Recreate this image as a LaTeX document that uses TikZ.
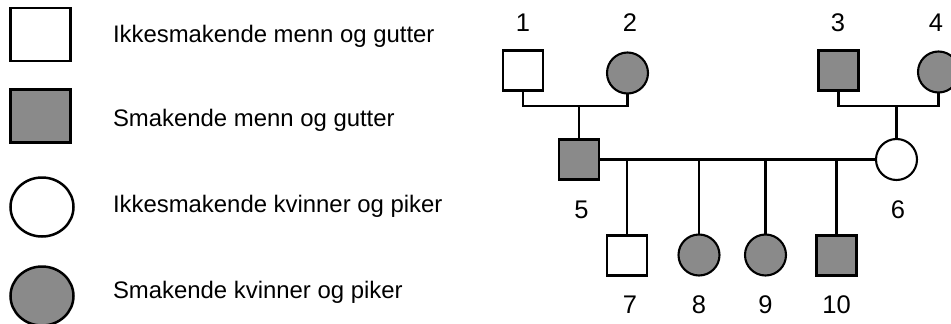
\documentclass[tikz,border=0pt]{standalone}
\usepackage{fontspec}
\setmainfont{Liberation Sans}
\usetikzlibrary{shapes.geometric}
\definecolor{aff}{RGB}{138,138,138}
\begin{document}
\begin{tikzpicture}[x=1pt,y=-1pt,
  every node/.style={inner sep=0pt,outer sep=0pt},
  lw/.style={line width=2.1pt},
  male/.style={draw,lw,rectangle,minimum width=40pt,minimum height=40pt},
  female/.style={draw,lw,circle,minimum size=41pt},
  lgsq/.style={draw,line width=2.5pt,rectangle,minimum width=60pt,minimum height=53pt},
  lgci/.style={draw,line width=2.5pt,ellipse,minimum width=63pt,minimum height=59pt},
  txt/.style={anchor=base west,font=\fontsize{23.9}{28}\selectfont},
  num/.style={anchor=base,font=\fontsize{25.5}{28}\selectfont},
  filled/.style={fill=aff},
  plain/.style={fill=white},
  conn/.style={draw,lw}]
\useasboundingbox (0,0) rectangle (951,324);
% legend
\node[lgsq,plain] (l1) at (40.5,34.5) {};
\node[lgsq,filled] (l2) at (40.5,116) {};
\node[lgci,plain] (l3) at (42,207) {};
\node[lgci,filled] (l4) at (42,296) {};
\node[txt] (t1) at (113,42) {Ikkesmakende menn og gutter};
\node[txt] (t2) at (113,126) {Smakende menn og gutter};
\node[txt] (t3) at (113,212) {Ikkesmakende kvinner og piker};
\node[txt] (t4) at (113,298) {Smakende kvinner og piker};
% pedigree
\node[male,plain] (n1) at (523,70.5) {};
\node[female,filled] (n2) at (627.5,73) {};
\node[male,filled] (n3) at (838.5,70.5) {};
\node[female,filled] (n4) at (938.5,72) {};
\node[male,filled] (n5) at (579,159.5) {};
\node[female,plain] (n6) at (896.5,159.5) {};
\node[male,plain] (n7) at (627,255.5) {};
\node[female,filled] (n8) at (699,255) {};
\node[female,filled] (n9) at (765.5,255) {};
\node[male,filled] (n10) at (836.5,255.5) {};
% labels
\node[num] (a1) at (523,31.5) {1};
\node[num] (a2) at (630,31.5) {2};
\node[num] (a3) at (838,31.5) {3};
\node[num] (a4) at (936,31.5) {4};
\node[num] (a5) at (581.5,218) {5};
\node[num] (a6) at (898,218) {6};
\node[num] (a7) at (630,313) {7};
\node[num] (a8) at (699,313) {8};
\node[num] (a9) at (765.5,313) {9};
\node[num] (a10) at (836.5,313) {10};
% connectors
\coordinate (m12) at (579,106);
\coordinate (m34) at (896.5,106);
\draw[conn] (n1.south) |- (m12) -| (n2.south);
\draw[conn] (m12) -- (n5.north);
\draw[conn] (n3.south) |- (m34) -| (n4.south);
\draw[conn] (m34) -- (n6.north);
\draw[conn] (n5.east) -- (n6.west);
\coordinate (c7) at (627,159.5);
\coordinate (c8) at (699,159.5);
\coordinate (c9) at (765.5,159.5);
\coordinate (c10) at (836.5,159.5);
\draw[conn] (c7) -- (n7.north);
\draw[conn] (c8) -- (n8.north);
\draw[conn] (c9) -- (n9.north);
\draw[conn] (c10) -- (n10.north);
\end{tikzpicture}
\end{document}
